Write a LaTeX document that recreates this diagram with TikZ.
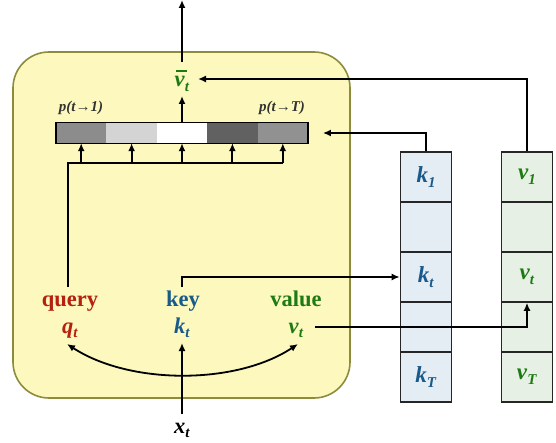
\documentclass[tikz,border=0pt]{standalone}
\usepackage{fontspec}
\setmainfont{Liberation Serif}
\usetikzlibrary{arrows.meta}
\definecolor{qred}{HTML}{B5200F}
\definecolor{kblue}{HTML}{1A5A8A}
\definecolor{vgreen}{HTML}{1E7A12}
\definecolor{panelfill}{HTML}{FCF8BE}
\definecolor{panelline}{HTML}{8C8C3C}
\definecolor{kfill}{HTML}{E4ECF4}
\definecolor{vfill}{HTML}{E6F0E4}
\newcommand{\bi}[1]{\textbf{\textit{#1}}}
\newcommand{\vsub}[2]{\bi{#1}\raisebox{-0.22em}{\fontsize{15}{15}\selectfont\bi{#2}}}
\begin{document}
\begin{tikzpicture}[x=1pt,y=-1pt,
  arr/.style={-{Latex[length=8pt,width=7pt]},line width=2pt},
  ln/.style={line width=2pt},
  lbl/.style={font=\fontsize{22.5}{24}\selectfont\bfseries,anchor=base,inner sep=0pt},
  sym/.style={font=\fontsize{22.5}{24}\selectfont,anchor=base,inner sep=0pt},
  cellk/.style={draw=black!85,line width=1.6pt,fill=kfill,minimum width=51pt,minimum height=50pt,inner sep=0pt,font=\fontsize{23}{24}\selectfont,text=kblue},
  cellv/.style={draw=black!85,line width=1.6pt,fill=vfill,minimum width=51pt,minimum height=50pt,inner sep=0pt,font=\fontsize{23}{24}\selectfont,text=vgreen},
  barc/.style={minimum width=50.4pt,minimum height=20pt,inner sep=0pt},
  prob/.style={font=\fontsize{15}{16}\selectfont\bfseries\itshape,text=black!80,inner sep=0pt}]
\useasboundingbox (0,0) rectangle (556,443);
% panel
\node (panel) at (181.5,225) [draw=panelline,line width=1.6pt,fill=panelfill,rounded corners=36pt,minimum width=337pt,minimum height=346pt] {};
% attention bar
\node (b1) at (81.2,133) [barc,fill=black!45] {};
\node (b2) at (131.6,133) [barc,fill=black!17] {};
\node (b3) at (182,133) [barc,fill=white] {};
\node (b4) at (232.4,133) [barc,fill=black!62] {};
\node (b5) at (282.8,133) [barc,fill=black!43] {};
\node (bar) at (182,133) [draw=black,line width=1.8pt,minimum width=252pt,minimum height=21pt] {};
\node[prob] (p1) at (81,108) {p(t→1)};
\node[prob] (pT) at (282,108) {p(t→T)};
% vbar
\node[sym,text=vgreen] (vbar) at (182,87) {\rlap{\hspace{0.06em}\raisebox{0.68em}{\rule{0.5em}{1.8pt}}}\bi{v}\raisebox{-0.22em}{\fontsize{15}{15}\selectfont\bi{t}}};
\coordinate (vin) at (182,96);
\coordinate (vtop) at (182,62);
\coordinate (vleft) at (198,79);
\coordinate (out) at (182,0);
% key/value columns
\node[cellk] (k1) at (426,177) {\vsub{k}{1}};
\node[cellk] (k2) at (426,227) {};
\node[cellk] (k3) at (426,277) {\vsub{k}{t}};
\node[cellk] (k4) at (426,327) {};
\node[cellk] (k5) at (426,377) {\vsub{k}{T}};
\node[cellv] (v1) at (527,177) {\vsub{v}{1}};
\node[cellv] (v2) at (527,227) {};
\node[cellv] (v3) at (527,277) {\vsub{v}{t}};
\node[cellv] (v4) at (527,327) {};
\node[cellv] (v5) at (527,377) {\vsub{v}{T}};
% labels
\node[lbl,text=qred] (query) at (70,306) {query};
\node[lbl,text=kblue] (key) at (183,306) {key};
\node[lbl,text=vgreen] (value) at (296,306) {value};
\node[sym,text=qred] (qt) at (70,333) {\vsub{q}{t}};
\node[sym,text=kblue] (kt) at (182,333) {\vsub{k}{t}};
\node[sym,text=vgreen] (vt) at (296,333) {\vsub{v}{t}};
\node[sym,text=black] (xt) at (182,433) {\vsub{x}{t}};
% connectors
\draw[arr] (vtop) -- (out);
\draw[arr] (bar.north) -- (vin);
\draw[arr] (v1.north) |- (vleft);
\draw[arr] (k1.north) |- ([xshift=14pt]bar.east);
\coordinate (hl) at (68,163);
\coordinate (hr) at (282.8,163);
\draw[ln] (68,287) -- (hl) -- (hr);
\foreach \i in {1,...,5} {
  \draw[arr] (hl -| b\i) -- (b\i.south);
}
\coordinate (kst) at (182,287);
\draw[arr] (kst) |- (k3.west);
\coordinate (vs) at (315,327);
\draw[arr] (vs) -| (v3.south);
\coordinate (xe) at (182,343);
\draw[arr] (182,414) -- (xe);
\draw[{Latex[length=8pt,width=7pt]}-{Latex[length=8pt,width=7pt]},line width=1.8pt] (67,344) .. controls (130,385) and (236,385) .. (298,344);
\end{tikzpicture}
\end{document}
